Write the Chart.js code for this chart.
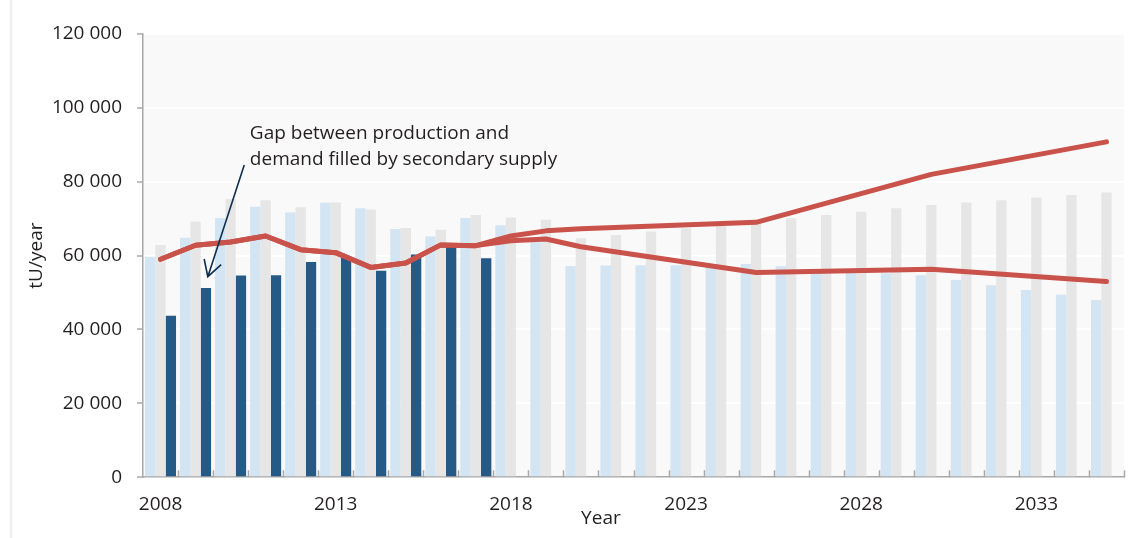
<!DOCTYPE html>
<html>
<head>
<meta charset="utf-8">
<script src="https://cdn.jsdelivr.net/npm/chart.js@4.4.1/dist/chart.umd.min.js"></script>
<style>
  html, body { margin: 0; padding: 0; background: #fff; }
  #wrap { position: relative; width: 1136px; height: 538px; }
  #edge { position: absolute; left: 9px; top: 0; width: 4px; height: 538px;
          background: linear-gradient(to right, rgba(0,0,0,0), rgba(0,0,0,0.08), rgba(0,0,0,0)); }
  #uranium { position: absolute; left: 0; top: 0; }
</style>
</head>
<body>
<div id="wrap">
  <div id="edge"></div>
  <canvas id="uranium" width="1136" height="538"></canvas>
</div>
<script>
const years = [2008, 2009, 2010, 2011, 2012, 2013, 2014, 2015, 2016, 2017,
  2018, 2019, 2020, 2021, 2022, 2023, 2024, 2025, 2026, 2027,
  2028, 2029, 2030, 2031, 2032, 2033, 2034, 2035];

// capacité de production (bleu clair / gris) et production réelle (bleu foncé)
const capacityLow = [59700, 64800, 70200, 73200, 71700, 74300, 72800, 67200, 65200, 70200,
  68200, 64000, 57200, 57300, 57400, 57400, 57000, 57700, 57100, 55800,
  55700, 55200, 54700, 53400, 52000, 50700, 49400, 48000];
const capacityHigh = [62900, 69200, 75300, 75000, 73100, 74400, 72500, 67500, 67000, 71000,
  70300, 69700, 64700, 65600, 66500, 67400, 68300, 69200, 70100, 71000,
  71900, 72800, 73700, 74400, 75000, 75700, 76400, 77100];
const production = [43700, 51200, 54600, 54700, 58300, 59500, 55900, 60300, 62400, 59300,
  null, null, null, null, null, null, null, null, null, null,
  null, null, null, null, null, null, null, null];

// besoins des réacteurs, haut et bas
const demandHigh = [59000, 62800, 63700, 65300, 61600, 60800, 56800, 58000, 62900, 62700,
  65300, 66700, 67300, null, null, null, null, 69000, null, null,
  null, null, 82000, null, null, null, null, 90800];
const demandLow = [59000, 62800, 63700, 65300, 61600, 60800, 56800, 58000, 62900, 62700,
  64000, 64500, 62400, null, null, null, null, 55400, null, null,
  null, null, 56300, null, null, null, null, 53000];

const yTicks = [0, 20000, 40000, 60000, 80000, 100000, 120000];
const noteLines = ["Gap between production and", "demand filled by secondary supply"];

const ink = "#231f20";
const axisGrey = "#a8a8a8";

Chart.defaults.font.family = '"Open Sans", sans-serif';
Chart.defaults.font.size = 19;
Chart.defaults.color = ink;

function spaced(v) {
  return String(v).replace(/\B(?=(\d{3})+(?!\d))/g, " ");
}

const plotBackground = {
  id: "plotBackground",
  beforeDraw(chart) {
    const { ctx, chartArea: a } = chart;
    ctx.save();
    ctx.fillStyle = "#f9f9f9";
    ctx.fillRect(a.left, a.top, a.right - a.left, a.bottom - a.top);
    ctx.restore();
  },
};

// petits traits vers l'intérieur entre les années
const innerTicks = {
  id: "innerTicks",
  afterDraw(chart) {
    const { ctx, chartArea: a } = chart;
    const x = chart.scales.x;
    ctx.save();
    ctx.strokeStyle = axisGrey;
    ctx.lineWidth = 1.5;
    ctx.beginPath();
    for (let i = 1; i <= years.length; i++) {
      const px = Math.round(x.getPixelForValue(i - 0.5)) + 0.5;
      ctx.moveTo(px, a.bottom);
      ctx.lineTo(px, a.bottom - 7);
    }
    ctx.stroke();
    ctx.restore();
  },
};

const gapNote = {
  id: "gapNote",
  afterDatasetsDraw(chart) {
    const { ctx, chartArea: a } = chart;
    const x = chart.scales.x, y = chart.scales.y;
    ctx.save();
    ctx.font = '19px "Open Sans"';
    ctx.fillStyle = ink;
    ctx.textBaseline = "alphabetic";
    ctx.textAlign = "left";
    const tx = x.getPixelForValue(2.55);
    ctx.fillText(noteLines[0], tx, y.getPixelForValue(91600));
    ctx.fillText(noteLines[1], tx, y.getPixelForValue(84500));

    // flèche
    const x0 = x.getPixelForValue(2.39), y0 = y.getPixelForValue(84500);
    const x1 = x.getPixelForValue(1.35), y1 = y.getPixelForValue(54300);
    ctx.strokeStyle = "#0f2f50";
    ctx.lineWidth = 1.6;
    ctx.beginPath();
    ctx.moveTo(x0, y0);
    ctx.lineTo(x1, y1);
    const ang = Math.atan2(y0 - y1, x0 - x1);
    const len = 18;
    ctx.moveTo(x1 + len * Math.cos(ang - 0.52), y1 + len * Math.sin(ang - 0.52));
    ctx.lineTo(x1, y1);
    ctx.lineTo(x1 + len * Math.cos(ang + 0.52), y1 + len * Math.sin(ang + 0.52));
    ctx.stroke();

    // titre de l'axe x
    ctx.textAlign = "center";
    ctx.fillText("Year", x.getPixelForValue(12.57), a.bottom + 47);
    ctx.restore();
  },
};

new Chart(document.getElementById("uranium"), {
  data: {
    labels: years,
    datasets: [
      {
        type: "line",
        label: "Reactor requirements (high)",
        data: demandHigh,
        borderColor: "#c9524a",
        borderWidth: 5,
        pointRadius: 0,
        spanGaps: true,
        borderCapStyle: "round",
        borderJoinStyle: "round",
        order: 0,
      },
      {
        type: "line",
        label: "Reactor requirements (low)",
        data: demandLow,
        borderColor: "#c9524a",
        borderWidth: 5,
        pointRadius: 0,
        spanGaps: true,
        borderCapStyle: "round",
        borderJoinStyle: "round",
        order: 0,
      },
      {
        type: "bar",
        label: "Production capability (existing and committed)",
        data: capacityLow,
        backgroundColor: "#d3e4f2",
        order: 1,
      },
      {
        type: "bar",
        label: "Production capability (incl. planned and prospective)",
        data: capacityHigh,
        backgroundColor: "#e6e6e6",
        order: 1,
      },
      {
        type: "bar",
        label: "Production",
        data: production,
        backgroundColor: "#255a87",
        order: 1,
      },
    ],
  },
  options: {
    responsive: false,
    animation: false,
    events: [],
    layout: { padding: { left: 21, top: 34, right: 12, bottom: 6 } },
    datasets: {
      bar: { barPercentage: 1, categoryPercentage: 0.886 },
    },
    plugins: {
      legend: { display: false },
      tooltip: { enabled: false },
    },
    scales: {
      x: {
        offset: true,
        grid: { display: true, drawOnChartArea: false, drawTicks: false },
        border: { color: axisGrey, width: 1.5 },
        ticks: {
          autoSkip: false,
          maxRotation: 0,
          padding: 16,
          callback: (v, i) => (i % 5 === 0 ? years[i] : ""),
        },
      },
      y: {
        min: 0,
        max: 120000,
        afterFit(scale) { scale.width = 122; },
        afterBuildTicks(scale) { scale.ticks = yTicks.map(v => ({ value: v })); },
        grid: { color: "#ffffff", lineWidth: 2, tickColor: axisGrey, tickLength: 6, tickWidth: 1.5 },
        border: { color: axisGrey, width: 1.5 },
        ticks: { padding: 15, callback: v => spaced(v) },
        title: { display: true, text: "tU/year", padding: { top: 4, bottom: 0 } },
      },
    },
  },
  plugins: [plotBackground, innerTicks, gapNote],
});
</script>
</body>
</html>
